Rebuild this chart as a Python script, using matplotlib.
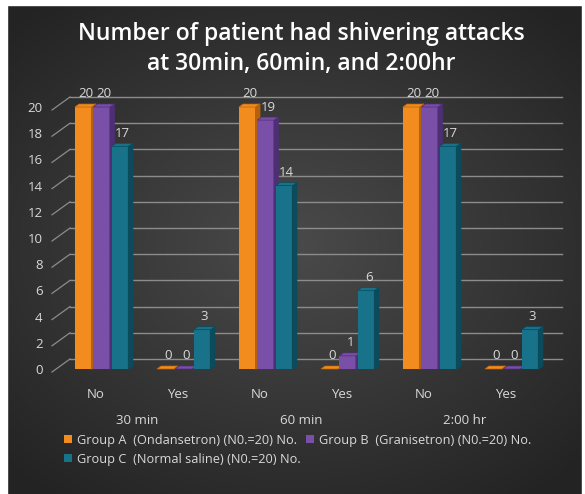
import numpy as np
import matplotlib.pyplot as plt
from matplotlib.patches import Polygon, Rectangle
from matplotlib.colors import LinearSegmentedColormap

# Datos del grafico
categorias = ['No', 'Yes', 'No', 'Yes', 'No', 'Yes']
tiempos = ['30 min', '60 min', '2:00 hr']
grupo_a = [20, 0, 20, 0, 20, 0]
grupo_b = [20, 0, 19, 1, 20, 0]
grupo_c = [17, 3, 14, 6, 17, 3]
series = ['Group A  (Ondansetron) (N0.=20) No.',
          'Group B  (Granisetron) (N0.=20) No.',
          'Group C  (Normal saline) (N0.=20) No.']
colores = ['#F28C1E', '#7A4FA8', '#17728A']
laterales = ['#B5610D', '#4E2F75', '#0B4B5C']

W, H = 585, 494
fig = plt.figure(figsize=(W / 100, H / 100), dpi=100, facecolor='#262626')
plt.rcParams['font.family'] = ['Open Sans', 'DejaVu Sans']

# Fondo con degradado radial
bg = fig.add_axes([0, 0, 1, 1])
yy, xx = np.mgrid[-1:1:200j, -1:1:200j]
r = np.sqrt(xx ** 2 + (yy * 1.1) ** 2)
grad = np.clip(1 - r / 1.4, 0, 1)
bg.imshow(grad, cmap=LinearSegmentedColormap.from_list('g', ['#232323', '#4a4a4a']),
          aspect='auto', extent=[0, 1, 0, 1])
bg.set_xlim(0, 1)
bg.set_ylim(0, 1)
bg.axis('off')
# margenes blancos del recorte original
for rx, ry, rw, rh in [(0, 0, 7 / W, 1), (0, 1 - 5 / H, 1, 5 / H), (1 - 3 / W, 0, 3 / W, 1)]:
    fig.patches.append(Rectangle((rx, ry), rw, rh, transform=fig.transFigure, color='white', zorder=20))

# Ejes principales (frente)
x0, x1 = 55, 547
y0, y1 = 369, 107
ax = fig.add_axes([x0 / W, (H - y0) / H, (x1 - x0) / W, (y0 - y1) / H])
ax.set_facecolor('none')
ax.set_xlim(-0.5, 5.5)
ax.set_ylim(0, 20)
for s in ax.spines.values():
    s.set_visible(False)

# Rejilla de la pared trasera (desplazada)
px = 6.0 / (x1 - x0)  # unidades x por pixel
py = 20.0 / (y0 - y1)
dx, dy = 15 * px, 10 * py
for v in range(0, 21, 2):
    ax.plot([-0.5 + dx, 5.5 + dx], [v + dy, v + dy], color='#8c8c8c', lw=1.0, zorder=0, clip_on=False)
    ax.plot([-0.5 - 3 * px, -0.5 + dx], [v - 3 * py, v + dy], color='#8c8c8c', lw=0.9, zorder=0, clip_on=False)

ax.set_yticks(range(0, 21, 2))
ax.set_xticks(range(len(categorias)))
ax.set_xticklabels(categorias)
ax.tick_params(axis='both', length=0, colors='#d9d9d9', labelsize=9.5)
ax.tick_params(axis='y', pad=9)
ax.tick_params(axis='x', pad=14)

# Barras con efecto 3D
x = np.arange(len(categorias))
ancho = 0.205
paso = 0.225
prof_x, prof_y = 4 * px, 3 * py
for j, vals in enumerate([grupo_a, grupo_b, grupo_c]):
    pos = x + 0.07 + (j - 1) * paso
    barras = ax.bar(pos, vals, ancho, color=colores[j], zorder=3 + j, label=series[j])
    for b, v in zip(barras, vals):
        bx, bw = b.get_x(), b.get_width()
        lado = Polygon([[bx + bw, 0], [bx + bw + prof_x, prof_y], [bx + bw + prof_x, v + prof_y], [bx + bw, v]],
                       closed=True, color=laterales[j], zorder=3 + j, clip_on=False)
        tapa = Polygon([[bx, v], [bx + prof_x, v + prof_y], [bx + bw + prof_x, v + prof_y], [bx + bw, v]],
                       closed=True, color=colores[j], ec=laterales[j], lw=0.5, zorder=3 + j, clip_on=False)
        ax.add_patch(lado)
        ax.add_patch(tapa)
        ax.text(bx + bw / 2 + 0.03, v + 0.5, str(v), ha='center', va='bottom', color='#d9d9d9',
                fontsize=9.5, zorder=10, clip_on=False)

# Etiquetas de tiempo
for k, t in enumerate(tiempos):
    ax.text(2 * k + 0.5, -3.9, t, ha='center', va='center', color='#d9d9d9', fontsize=9.5,
            clip_on=False)

# Titulo
fig.text(0.515, 1 - 34 / H, 'Number of patient had shivering attacks', ha='center', va='center',
         color='white', fontsize=16.5, fontweight='semibold')
fig.text(0.515, 1 - 64 / H, 'at 30min, 60min, and 2:00hr', ha='center', va='center',
         color='white', fontsize=16.5, fontweight='semibold')

# Leyenda
h, l = ax.get_legend_handles_labels()
fig.legend(h[:2], l[:2], loc='center left', bbox_to_anchor=(58 / W, 1 - 440 / H), ncol=2,
           frameon=False, fontsize=9.2, labelcolor='#d9d9d9', handlelength=0.6, handleheight=0.6,
           handletextpad=0.4, columnspacing=0.7, borderpad=0)
fig.legend(h[2:], l[2:], loc='center left', bbox_to_anchor=(58 / W, 1 - 459 / H), ncol=1,
           frameon=False, fontsize=9.2, labelcolor='#d9d9d9', handlelength=0.6, handleheight=0.6,
           handletextpad=0.4, borderpad=0)

fig.savefig('out.png', dpi=100, facecolor=fig.get_facecolor())
